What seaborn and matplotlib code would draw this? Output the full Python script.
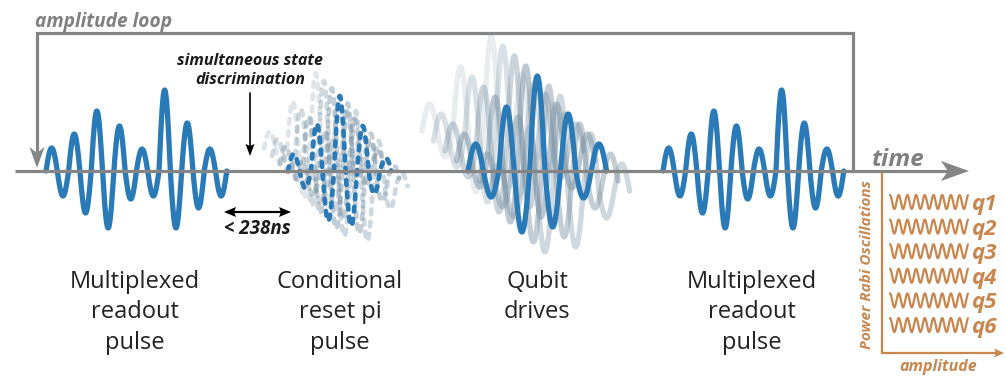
import numpy as np
import matplotlib
matplotlib.use("Agg")
import matplotlib.pyplot as plt
import seaborn as sns
from matplotlib.patches import Polygon

# ---------------- data ----------------
readout_half_amps = [23, 25, 37, 42, 60, 57, 45, 28, 22, 25, 81, 57, 48, 37, 22, 25]
qubit_half_amps = [27, 26, 64, 61, 95, 56, 57, 27, 27]
reset_half_amps = [17, 17, 47, 50, 75, 55, 45, 23, 13]
qubit_copy_levels = [-4, -3, -2, -1, 1, 2]
reset_copy_levels = [-3, -2, -1, 1, 2]
rabi_labels = ["q1", "q2", "q3", "q4", "q5", "q6"]
stage_labels = [["Multiplexed", "readout", "pulse"],
                ["Conditional", "reset pi", "pulse"],
                ["Qubit", "drives"],
                ["Multiplexed", "readout", "pulse"]]
stage_x = [135, 340, 537, 752]

# ---------------- style ----------------
sns.set_theme(style="white")
plt.rcParams['font.family'] = ['Open Sans', 'DejaVu Sans']

BLUE = "#2a7ab8"
GRAY = "#858585"
TGRAY = "#808080"
ORANGE = "#c8874f"
COPY = "#7890a2"
BASE = 171

fig = plt.figure(figsize=(10.06, 3.76), dpi=100)
ax = fig.add_axes([0, 0, 1, 1])
ax.set_xlim(0, 1006)
ax.set_ylim(376, 0)
ax.axis("off")


def pulse(x0, half, amps, n=40):
    xs, ys = [], []
    for k, a in enumerate(amps):
        t = np.linspace(0, 1, n, endpoint=(k == len(amps) - 1))
        s = 1 if k % 2 == 0 else -1
        xs.append(x0 + (k + t) * half)
        ys.append(s * a * np.sin(np.pi * t))
    return np.concatenate(xs), np.concatenate(ys)


def arrowhead(tip, direction, length, width, notch, color, z=5):
    tx, ty = tip
    dx, dy = direction
    px, py = -dy, dx
    back = (tx - dx * length, ty - dy * length)
    pts = [tip,
           (back[0] + px * width / 2, back[1] + py * width / 2),
           (tx - dx * (length - notch), ty - dy * (length - notch)),
           (back[0] - px * width / 2, back[1] - py * width / 2)]
    ax.add_patch(Polygon(pts, closed=True, color=color, zorder=z, lw=0))


# ---------------- readout pulses ----------------
for x0 in (46, 663):
    xs, ys = pulse(x0, 11.3, readout_half_amps)
    sns.lineplot(x=xs, y=BASE - ys, ax=ax, color=BLUE, linewidth=3.8,
                 estimator=None, sort=False, zorder=2, solid_capstyle='round')

# ---------------- qubit drives (stacked copies) ----------------
xs, ys = pulse(468, 15.4, qubit_half_amps)
for k in qubit_copy_levels:
    if k < 0:
        alpha = 0.5 - 0.11 * (abs(k) - 1)
    else:
        alpha = 0.45 - 0.1 * (k - 1)
    sns.lineplot(x=xs + 11.5 * k, y=BASE - ys + 10 * k, ax=ax, color=COPY,
                 alpha=alpha, linewidth=3.8, estimator=None, sort=False,
                 zorder=1.5, solid_capstyle='round')
sns.lineplot(x=xs, y=BASE - ys, ax=ax, color=BLUE, linewidth=3.8,
             estimator=None, sort=False, zorder=2, solid_capstyle='round')

# ---------------- conditional reset pulse (dashed copies) ----------------
xs, ys = pulse(288, 11.5, reset_half_amps)
for k in reset_copy_levels:
    if k < 0:
        alpha = 0.45 - 0.11 * (abs(k) - 1)
    else:
        alpha = 0.45 - 0.1 * (k - 1)
    sns.lineplot(x=xs + 8 * k, y=BASE - ys + 7.5 * k, ax=ax, color=COPY,
                 alpha=alpha, linewidth=3.4, estimator=None, sort=False,
                 zorder=1.5, linestyle=(0, (1.0, 1.6)), dash_capstyle='round')
sns.lineplot(x=xs, y=BASE - ys, ax=ax, color=BLUE, linewidth=3.4,
             estimator=None, sort=False, zorder=2,
             linestyle=(0, (1.0, 1.6)), dash_capstyle='round')

# ---------------- time axis & amplitude loop ----------------
ax.plot([15, 950], [BASE, BASE], color=GRAY, lw=2.3, zorder=3, solid_capstyle='butt')
arrowhead((969, BASE), (1, 0), 28, 20, 7, GRAY)
ax.plot([37, 37, 853, 853], [158, 33, 33, BASE], color=GRAY, lw=2.3, zorder=3,
        solid_joinstyle='miter')
arrowhead((37, 168), (0, 1), 21, 15, 6, GRAY)

ax.text(35, 27, "amplitude loop", fontsize=13.8, fontweight='bold', fontstyle='italic',
        color=TGRAY, ha='left', va='baseline')
ax.text(872, 166, "time", fontsize=17.5, fontweight='bold', fontstyle='italic',
        color=TGRAY, ha='left', va='baseline')

# ---------------- annotations ----------------
ax.text(250, 65, "simultaneous state", fontsize=11.5, fontweight='bold', fontstyle='italic',
        color="#1a1a1a", ha='center', va='baseline')
ax.text(250, 84, "discrimination", fontsize=11.5, fontweight='bold', fontstyle='italic',
        color="#1a1a1a", ha='center', va='baseline')
ax.plot([250, 250], [93, 146], color="black", lw=1.2, zorder=4)
arrowhead((250, 156), (0, 1), 12, 9, 2, "black")

ax.plot([234, 281], [212, 212], color="black", lw=1.6, zorder=4)
arrowhead((291, 212), (1, 0), 12, 10, 2, "black")
arrowhead((224, 212), (-1, 0), 12, 10, 2, "black")
ax.text(257, 234, "< 238ns", fontsize=13.5, fontweight='bold', fontstyle='italic',
        color="#1a1a1a", ha='center', va='baseline')

# ---------------- stage labels ----------------
for x, lines in zip(stage_x, stage_labels):
    for i, s in enumerate(lines):
        ax.text(x, 288 + 30.5 * i, s, fontsize=17, color="#222222",
                ha='center', va='baseline')

# ---------------- power Rabi panel ----------------
ax.plot([882, 882, 996], [173, 353, 353], color=ORANGE, lw=1.6, zorder=3,
        solid_joinstyle='miter')
arrowhead((1004, 353), (1, 0), 10, 9, 2, ORANGE)
ax.text(867, 265, "Power Rabi Oscillations", fontsize=11, fontweight='bold',
        fontstyle='italic', color=ORANGE, rotation=90, ha='center', va='center')
ax.text(938, 371, "amplitude", fontsize=11.5, fontweight='bold', fontstyle='italic',
        color=ORANGE, ha='center', va='baseline')

wx = np.linspace(890, 968, 300)
for i, lab in enumerate(rabi_labels):
    yc = 202 + 24.6 * i
    sns.lineplot(x=wx, y=yc - 7 * np.sin(2 * np.pi * (wx - 890) / 8.7 + np.pi / 2),
                 ax=ax, color=ORANGE, linewidth=1.6, estimator=None, sort=False)
    ax.text(971, yc + 8, lab, fontsize=16, fontweight='bold', fontstyle='italic',
            color=ORANGE, ha='left', va='baseline')

fig.savefig("out.png", dpi=100)
